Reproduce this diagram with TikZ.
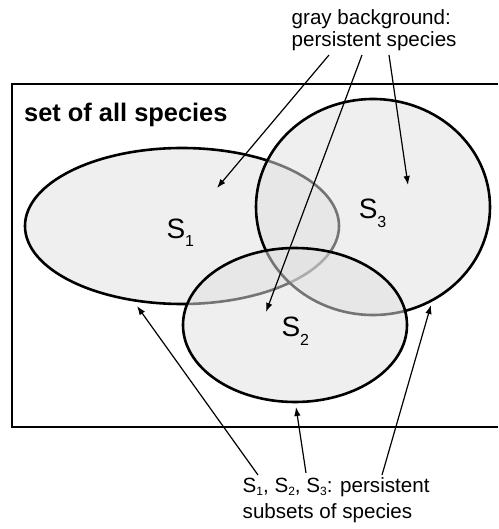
\documentclass[tikz,border=0pt]{standalone}
\usepackage{fontspec}
\setmainfont{Liberation Sans}
\usetikzlibrary{arrows.meta, shapes.geometric}
\definecolor{vennFill}{gray}{0.88}
\newcommand{\lowsub}[3]{\raisebox{-#2pt}{\fontsize{#1}{#1}\selectfont #3}}

\begin{document}
\begin{tikzpicture}[
        x=1pt, y=-1pt,
        venn/.style={ellipse, draw=black, line width=2.6pt, fill=vennFill, fill opacity=0.52, inner sep=0pt},
        setlbl/.style={anchor=base west, inner sep=0pt, font=\fontsize{28}{30}\selectfont},
        note/.style={anchor=base west, inner sep=0pt, align=left, font=\fontsize{20.6}{22}\selectfont},
        rel/.style={-{Latex[length=9pt,width=6.5pt]}, line width=1.2pt}
    ]
    \useasboundingbox (0,0) rectangle (498,529);
    \draw[line width=2.6pt] (498,84) -- (12,84) -- (12,427) -- (498,427);
    \node[anchor=base west, inner sep=0pt, font=\fontsize{25.4}{27}\selectfont\bfseries] (all) at (24,122) {set of all species};

    % the three subsets
    \node[venn, minimum width=314, minimum height=156] (s1) at (182,226) {};
    \node[venn, minimum width=234, minimum height=216] (s3) at (373,207) {};
    \node[venn, minimum width=224, minimum height=154] (s2) at (295,325) {};
    \node[setlbl] (l1) at (166.3,238.3) {S\lowsub{16}{8.4}{1}};
    \node[setlbl] (l3) at (358.6,218.3) {S\lowsub{16}{9}{3}};
    \node[setlbl] (l2) at (281.3,336.7) {S\lowsub{16}{9}{2}};

    % notes (base = last line)
    \node[note] (gray) at (291.5,47) {gray background:\\persistent species};
    \node[note, font=\fontsize{20.6}{25.5}\selectfont] (subs) at (242.5,518) {S\lowsub{12}{3}{1}, S\lowsub{12}{3}{2}, S\lowsub{12}{3}{3}: persistent\\subsets of species};

    \coordinate (g1) at (329,55);  \coordinate (p1) at (217,188);
    \coordinate (g2) at (362,55);  \coordinate (p2) at (266,312);
    \coordinate (g3) at (389,55);  \coordinate (p3) at (408,185);
    \coordinate (u1) at (258,475); \coordinate (b1) at (137,306);
    \coordinate (u2) at (306,473); \coordinate (b2) at (296,407);
    \coordinate (u3) at (382,475); \coordinate (b3) at (431,305);
    \draw[rel] (g1)--(p1); \draw[rel] (g2)--(p2); \draw[rel] (g3)--(p3);
    \draw[rel] (u1)--(b1); \draw[rel] (u2)--(b2); \draw[rel] (u3)--(b3);
\end{tikzpicture}
\end{document}
